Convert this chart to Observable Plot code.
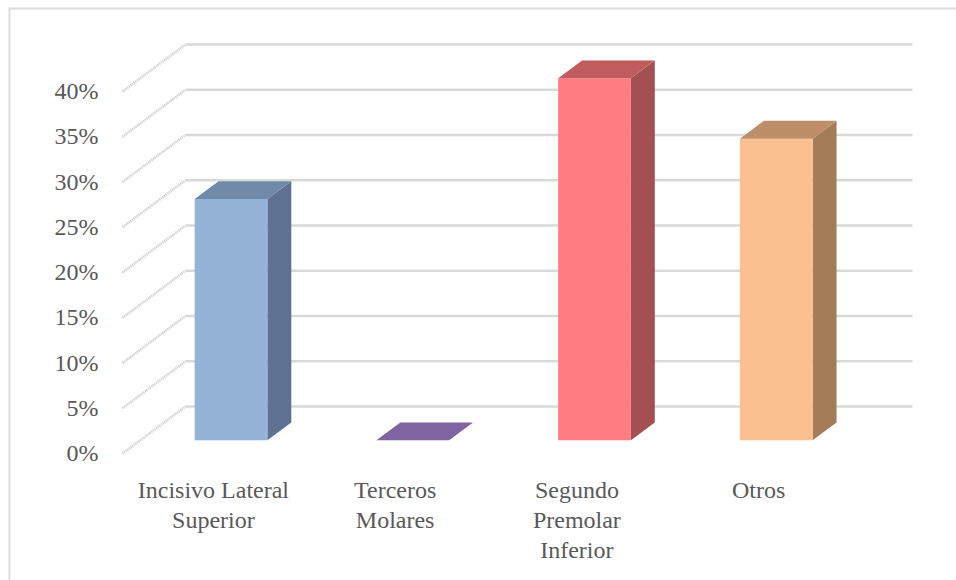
<!DOCTYPE html>
<html><head><meta charset="utf-8">
<script src="https://cdn.jsdelivr.net/npm/d3@7"></script>
<script src="https://cdn.jsdelivr.net/npm/@observablehq/plot@0.6"></script>
</head><body style="margin:0;background:#fff">
<script>
const categories = ["Incisivo Lateral\nSuperior", "Terceros\nMolares", "Segundo\nPremolar\nInferior", "Otros"];
const values = [26.67, 0, 40, 33.33];
const yTicks = [0, 5, 10, 15, 20, 25, 30, 35, 40];
const frontColors = ["#95b3d7", "#8064a2", "#ff7c80", "#fac090"];
const topColors = ["#7089a9", "#8064a2", "#c05b5e", "#be8e68"];
const sideColors = ["#5f7190", "#5f4a7a", "#a44f52", "#a47c58"];

// 3D projection helpers (data units)
const DX = 0.3466, DY = 5.19;     // full floor depth
const T0 = 0.28, T1 = 0.66, HW = 0.2;
const P = (cx, v, t) => ({x: cx + t * DX, y: v + t * DY});

const faces = [];
categories.forEach((c, i) => {
  const v = values[i], cx = i + 0.5, xl = cx - HW, xr = cx + HW;
  const add = (name, color, pts) => pts.forEach(p => faces.push({face: i + "-" + name, color, ...p}));
  if (v > 0) {
    add("side", sideColors[i], [P(xr, 0, T0), P(xr, 0, T1), P(xr, v, T1), P(xr, v, T0)]);
    add("front", frontColors[i], [P(xl, 0, T0), P(xr, 0, T0), P(xr, v, T0), P(xl, v, T0)]);
  }
  add("top", topColors[i], [P(xl, v, T0), P(xr, v, T0), P(xr, v, T1), P(xl, v, T1)]);
});

const chart = Plot.plot({
  width: 956,
  height: 580,
  margin: 0,
  x: {type: "linear", domain: [0, 4], range: [122, 849], axis: null},
  y: {type: "linear", domain: [0, 40], range: [453, 91], axis: null},
  color: {type: "identity"},
  marks: [
    Plot.frame({stroke: "#dcdcdc", strokeWidth: 2, insetLeft: 9, insetTop: 8, insetRight: -10, insetBottom: -10}),
    Plot.link(yTicks, {x1: () => 0, y1: d => d, x2: () => DX, y2: d => d + DY,
      stroke: "#cccccc", strokeWidth: 2.4, strokeDasharray: "1.2,0.8"}),
    Plot.link(yTicks, {x1: () => DX, y1: d => d + DY, x2: () => 4 + DX, y2: d => d + DY,
      stroke: "#d9d9d9", strokeWidth: 2.5}),
    Plot.line(faces, {x: "x", y: "y", z: "face", fill: "color", stroke: "none", curve: "linear-closed"}),
    Plot.text(yTicks, {x: () => 0, y: d => d, text: d => d + "%", textAnchor: "end", dx: -24,
      fontSize: 24, fill: "#595959", fontFamily: "Liberation Serif"}),
    Plot.text(categories, {x: (d, i) => i + 0.5, y: () => 0, text: d => d, lineAnchor: "top",
      dy: 23, lineHeight: 1.25, fontSize: 24, fill: "#595959", fontFamily: "Liberation Serif"})
  ]
});
document.body.appendChild(chart);
</script>
</body></html>
